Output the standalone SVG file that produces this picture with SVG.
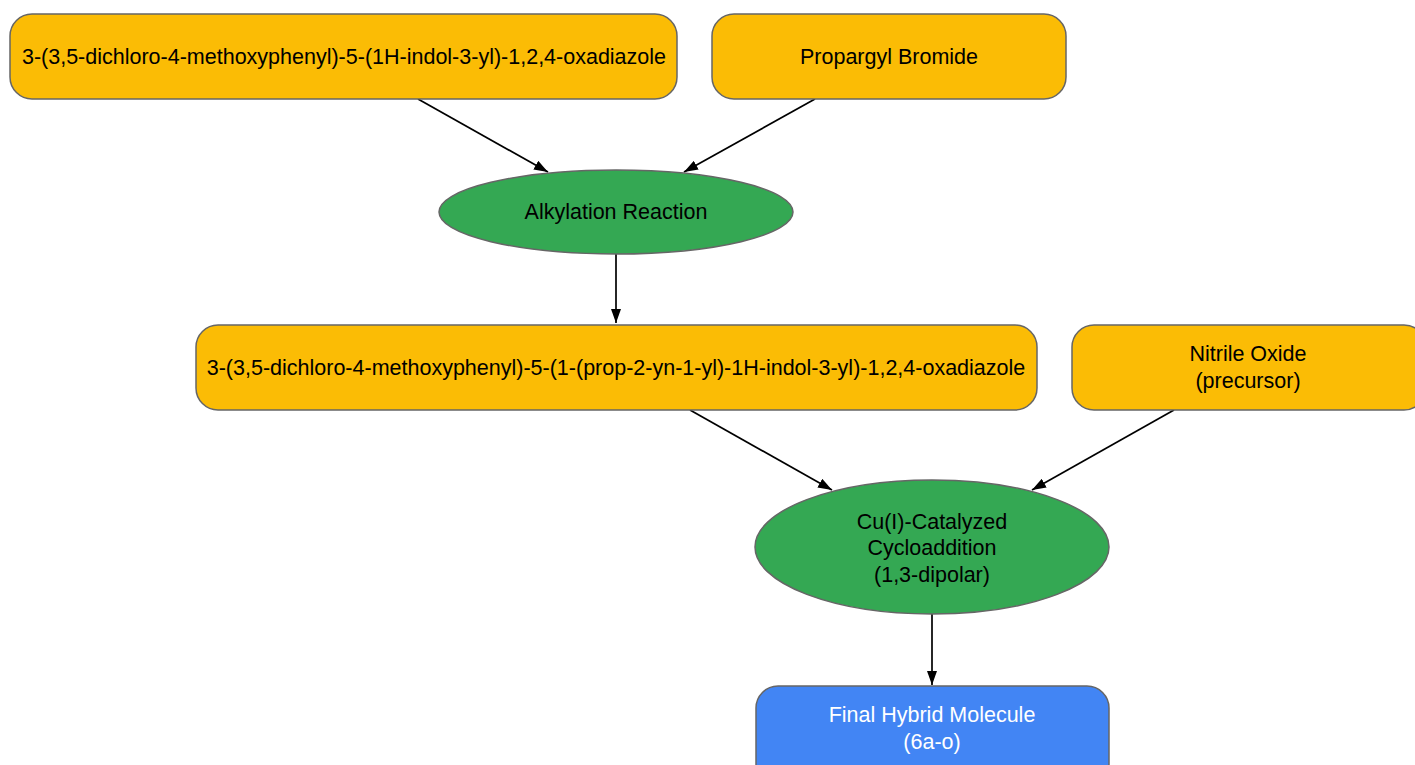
<svg xmlns="http://www.w3.org/2000/svg" width="1415" height="765" viewBox="0 0 1415 765">
<style>
.y{fill:#FBBC05;stroke:#666666;stroke-width:1.5}
.g{fill:#34A853;stroke:#666666;stroke-width:1.5}
.b{fill:#4285F4;stroke:#666666;stroke-width:1.5}
text{font-family:"Liberation Sans",Arial,sans-serif;font-size:21.5px;text-anchor:middle;fill:#000000}
.w{fill:#FFFFFF}
.e{stroke:#000000;stroke-width:1.7;fill:none;marker-end:url(#ah)}
</style>
<defs>
<marker id="ah" viewBox="0 0 14 10" refX="14" refY="5" markerWidth="14" markerHeight="10" markerUnits="userSpaceOnUse" orient="auto">
<path d="M0,0 L14,5 L0,10 z" fill="#000000"/>
</marker>
</defs>
<g id="edges">
<line class="e" x1="418" y1="99" x2="548" y2="172"/>
<line class="e" x1="815" y1="99" x2="684" y2="172"/>
<line class="e" x1="616" y1="254" x2="616" y2="323"/>
<line class="e" x1="690" y1="410" x2="832" y2="490"/>
<line class="e" x1="1174" y1="410" x2="1032" y2="490"/>
<line class="e" x1="932" y1="614" x2="932" y2="685"/>
</g>
<g id="start">
<rect class="y" x="10" y="14" width="667" height="85" rx="22"/>
<text x="344" y="64">3-(3,5-dichloro-4-methoxyphenyl)-5-(1H-indol-3-yl)-1,2,4-oxadiazole</text>
</g>
<g id="propargyl">
<rect class="y" x="712" y="14" width="354" height="85" rx="22"/>
<text x="889" y="64">Propargyl Bromide</text>
</g>
<g id="alkylation">
<ellipse class="g" cx="616" cy="212" rx="177" ry="42"/>
<text x="616" y="219">Alkylation Reaction</text>
</g>
<g id="intermediate">
<rect class="y" x="196" y="325" width="841" height="85" rx="22"/>
<text x="616" y="375">3-(3,5-dichloro-4-methoxyphenyl)-5-(1-(prop-2-yn-1-yl)-1H-indol-3-yl)-1,2,4-oxadiazole</text>
</g>
<g id="nitrile">
<rect class="y" x="1072" y="325" width="354" height="85" rx="22"/>
<text x="1248" y="361">Nitrile Oxide</text>
<text x="1248" y="388">(precursor)</text>
</g>
<g id="cycloaddition">
<ellipse class="g" cx="932" cy="547" rx="177" ry="67"/>
<text x="932" y="529">Cu(I)-Catalyzed</text>
<text x="932" y="555">Cycloaddition</text>
<text x="932" y="582">(1,3-dipolar)</text>
</g>
<g id="final">
<rect class="b" x="756" y="686" width="353" height="100" rx="22"/>
<text class="w" x="932" y="722">Final Hybrid Molecule</text>
<text class="w" x="932" y="749">(6a-o)</text>
</g>
</svg>
